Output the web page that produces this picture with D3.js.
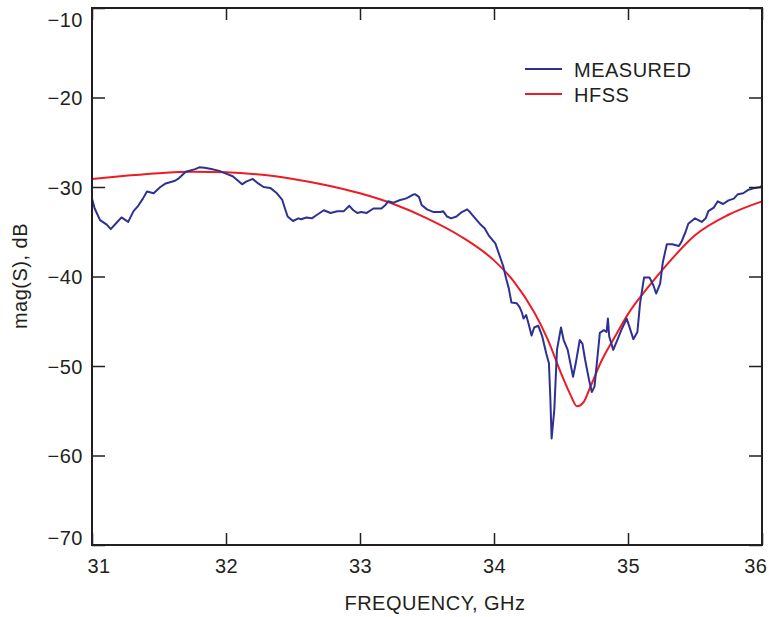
<!DOCTYPE html>
<html><head><meta charset="utf-8">
<script src="https://cdn.jsdelivr.net/npm/d3@7/dist/d3.min.js"></script>
<style>
body{margin:0;background:#fff;}
text{font-family:"Liberation Sans",Arial,sans-serif;fill:#231f20;}
</style></head>
<body><svg id="c" width="769" height="617"></svg>
<script>
const xTicks = [31, 32, 33, 34, 35, 36];
const xTickLabels = ["31", "32", "33", "34", "35", "36"];
const yTicks = [-10, -20, -30, -40, -50, -60, -70];
const yTickLabels = ["\u221210", "\u221220", "\u221230", "\u221240", "\u221250", "\u221260", "\u221270"];
const seriesNames = ["MEASURED", "HFSS"];
const seriesColors = ["#2e3192", "#ed1c24"];

const measuredFreq = [31.00,31.02,31.06,31.11,31.14,31.18,31.22,31.27,31.31,31.34,31.38,31.41,31.46,31.51,31.55,31.62,31.65,31.70,31.77,31.80,31.84,31.89,31.95,32.00,32.05,32.09,32.12,32.15,32.20,32.24,32.28,32.33,32.38,32.42,32.44,32.46,32.50,32.54,32.56,32.60,32.64,32.68,32.73,32.78,32.83,32.88,32.92,32.95,32.98,33.01,33.05,33.10,33.16,33.19,33.21,33.25,33.30,33.34,33.36,33.39,33.41,33.44,33.46,33.50,33.55,33.60,33.62,33.65,33.68,33.72,33.76,33.80,33.82,33.86,33.90,33.93,33.96,34.01,34.04,34.07,34.09,34.11,34.13,34.17,34.19,34.21,34.22,34.24,34.26,34.28,34.30,34.33,34.36,34.39,34.41,34.42,34.43,34.45,34.47,34.50,34.52,34.55,34.59,34.61,34.64,34.66,34.68,34.71,34.73,34.75,34.77,34.79,34.82,34.84,34.85,34.86,34.89,34.92,34.95,34.99,35.01,35.04,35.07,35.09,35.12,35.16,35.19,35.21,35.24,35.26,35.29,35.33,35.38,35.40,35.43,35.45,35.50,35.55,35.58,35.60,35.64,35.67,35.71,35.75,35.79,35.82,35.86,35.90,35.95,35.99,36.00];
const measuredMag = [-31.3,-32.4,-33.7,-34.2,-34.7,-34.05,-33.4,-33.9,-32.7,-32.2,-31.3,-30.5,-30.7,-30.0,-29.6,-29.3,-29.0,-28.3,-28.0,-27.8,-27.85,-28.0,-28.2,-28.5,-28.8,-29.3,-29.7,-29.4,-29.1,-29.6,-30.0,-30.1,-30.7,-31.45,-32.4,-33.3,-33.8,-33.5,-33.6,-33.4,-33.5,-33.1,-32.6,-32.9,-32.7,-32.7,-32.1,-32.6,-32.9,-32.8,-32.9,-32.4,-32.4,-32.0,-31.6,-31.75,-31.45,-31.3,-31.15,-30.9,-30.8,-31.1,-32.0,-32.5,-32.8,-32.8,-32.7,-33.3,-33.5,-33.3,-32.8,-32.5,-32.8,-33.5,-34.2,-34.6,-35.4,-36.3,-37.6,-38.9,-40.2,-41.3,-42.9,-43.0,-43.4,-44.1,-44.7,-44.3,-45.4,-46.6,-45.7,-45.5,-46.7,-48.6,-49.7,-53.4,-58.1,-54.9,-48.2,-45.7,-47.1,-48.2,-51.2,-49.7,-47.1,-47.5,-49.3,-51.6,-52.9,-52.3,-49.3,-46.3,-46.0,-46.2,-44.7,-46.7,-48.2,-47.1,-46.0,-44.7,-45.6,-47.0,-46.2,-43.0,-40.1,-40.1,-41.0,-41.9,-40.8,-38.4,-36.4,-36.4,-36.6,-36.1,-35.0,-34.1,-33.5,-33.9,-33.5,-32.7,-32.3,-31.6,-31.9,-31.5,-31.3,-30.8,-30.7,-30.3,-30.1,-30.0,-29.8];

const hfssFreq = [31.0,31.25,31.5,31.75,32.0,32.25,32.5,32.75,33.0,33.25,33.5,33.75,34.0,34.15,34.3,34.4,34.5,34.57,34.62,34.67,34.72,34.8,34.9,35.0,35.15,35.3,35.5,35.75,36.0];
const hfssMag = [-29.1,-28.75,-28.45,-28.3,-28.35,-28.6,-29.1,-29.8,-30.7,-31.9,-33.5,-35.5,-38.2,-40.6,-44.0,-47.0,-50.8,-53.2,-54.5,-54.0,-52.3,-49.5,-46.8,-44.2,-41.2,-38.5,-35.4,-33.1,-31.6];

const L = 92, R = 762, T = 8, B = 545;
const svg = d3.select("#c");
const x = d3.scaleLinear().domain([31, 36]).range([L, R]);
const y = d3.scaleLinear().domain([-70, -10]).range([B, T]);
const fs = "20px", ls = "0.5px";

// plot lines
const line = d3.line().x(d => x(d[0])).y(d => y(d[1]));
const measured = measuredFreq.map((f, i) => [f, measuredMag[i]]);
const hfss = hfssFreq.map((f, i) => [f, hfssMag[i]]);
svg.append("path").datum(hfss).attr("d", line.curve(d3.curveMonotoneX))
  .attr("fill", "none").attr("stroke", seriesColors[1]).attr("stroke-width", 2);
svg.append("path").datum(measured).attr("d", d3.line().x(d => x(d[0])).y(d => y(d[1])))
  .attr("fill", "none").attr("stroke", seriesColors[0]).attr("stroke-width", 2).attr("stroke-linejoin", "round");

// axes
const yl = svg.append("g").attr("transform", `translate(${L},0)`)
  .call(d3.axisLeft(y).tickValues(yTicks).tickFormat((d, i) => yTickLabels[i]).tickSize(-13).tickPadding(9));
const xb = svg.append("g").attr("transform", `translate(0,${B})`)
  .call(d3.axisBottom(x).tickValues(xTicks).tickFormat((d, i) => xTickLabels[i]).tickSize(-12).tickPadding(14));
svg.append("g").attr("transform", `translate(0,${T})`)
  .call(d3.axisTop(x).tickValues(xTicks).tickFormat("").tickSize(-12));
svg.append("g").attr("transform", `translate(${R},0)`)
  .call(d3.axisRight(y).tickValues(yTicks).tickFormat("").tickSize(-13));
svg.selectAll(".domain").remove();
svg.selectAll(".tick line").attr("stroke", "#231f20").attr("stroke-width", 1.5);
svg.selectAll(".tick text").attr("font-size", fs).attr("letter-spacing", ls)
  .attr("font-family", "'Liberation Sans', Arial, sans-serif").attr("fill", "#231f20");
yl.selectAll(".tick text").attr("dy", d => d === -10 ? "0.9em" : d === -70 ? "-0.02em" : "0.35em");
xb.selectAll(".tick text").attr("text-anchor", d => d === 31 ? "start" : d === 36 ? "end" : "middle")
  .attr("x", d => d === 31 ? -5 : d === 36 ? 5 : 0);

// frame
svg.append("rect").attr("x", L).attr("y", T).attr("width", R - L).attr("height", B - T)
  .attr("fill", "none").attr("stroke", "#231f20").attr("stroke-width", 2);

// axis titles
svg.append("text").attr("x", 435).attr("y", 610).attr("text-anchor", "middle")
  .attr("font-size", fs).attr("letter-spacing", ls).text("FREQUENCY, GHz");
svg.append("text").attr("transform", "translate(27,276) rotate(-90)").attr("text-anchor", "middle")
  .attr("font-size", fs).attr("letter-spacing", ls).text("mag(S), dB");

// legend
const leg = svg.append("g");
seriesNames.forEach((n, i) => {
  const yy = 69 + i * 25;
  leg.append("line").attr("x1", 525).attr("x2", 562).attr("y1", yy).attr("y2", yy)
    .attr("stroke", seriesColors[i]).attr("stroke-width", 2);
  leg.append("text").attr("x", 574).attr("y", yy + 7.5).attr("font-size", fs)
    .attr("letter-spacing", ls).text(n);
});
</script></body></html>
